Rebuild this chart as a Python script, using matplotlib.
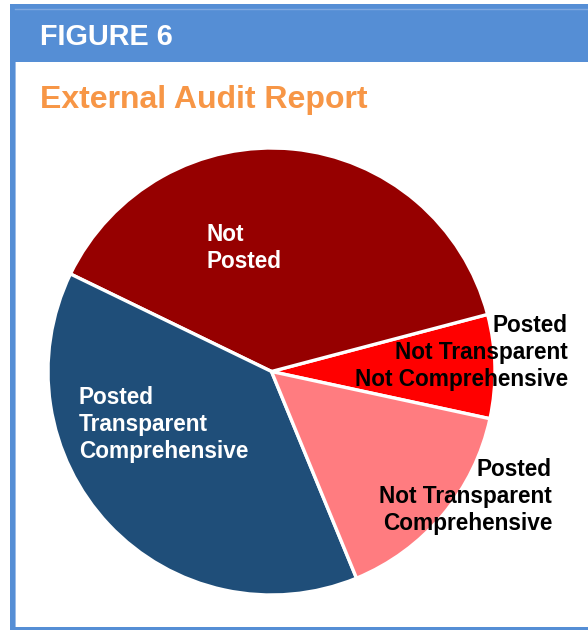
import matplotlib
matplotlib.use("Agg")
import matplotlib.pyplot as plt
from matplotlib.patches import Rectangle

plt.rcParams['font.family'] = ['Liberation Sans', 'DejaVu Sans']

# data (share of countries)
categories = ["Posted\nNot Transparent\nNot Comprehensive",
              "Not\nPosted",
              "Posted\nTransparent\nComprehensive",
              "Posted\nNot Transparent\nComprehensive"]
shares = [7.5, 38.7, 38.4, 15.4]
colors = ['#ff0000', '#960000', '#1f4e79', '#ff7c80']
text_colors = ['black', 'white', 'white', 'black']

W, H = 588, 630
fig = plt.figure(figsize=(W / 100, H / 100), dpi=100)

# background frame in pixel coordinates
bg = fig.add_axes([0, 0, 1, 1])
bg.set_xlim(0, W)
bg.set_ylim(H, 0)
bg.axis('off')
bg.add_patch(Rectangle((10, 4), W - 10, 58, color='#558ed5', lw=0))
bg.plot([15, W], [9, 9], color='#7fa8e0', lw=1)
bg.add_patch(Rectangle((10, 62), 5, H - 62, color='#558ed5', lw=0))
bg.add_patch(Rectangle((15, 62), 1.2, H - 65, color='#9dbde8', lw=0))
bg.add_patch(Rectangle((10, 627), W - 10, 3, color='#558ed5', lw=0))
bg.text(40, 45, "FIGURE 6", color='white', fontsize=20.8, fontweight='bold',
        va='baseline', ha='left')
bg.text(40, 108, "External Audit Report", color='#f79646', fontsize=23,
        fontweight='bold', va='baseline', ha='left')

# pie: centre (271.5, 371.5) px, radius 223.5 px
cx, cy, r = 271.5, 371.5, 223.5
ax = fig.add_axes([(cx - r) / W, (H - cy - r) / H, 2 * r / W, 2 * r / H])
ax.pie(shares, colors=colors, startangle=-12.2, counterclock=True,
       wedgeprops=dict(edgecolor='white', linewidth=2.4), radius=1)
ax.set_xlim(-1, 1)
ax.set_ylim(-1, 1)
ax.set_aspect('equal')


def px(x, y):
    return (x - cx) / r, (cy - y) / r


# label positions (px of last-line baseline) and alignment
label_pos = [(568, 386, 'right'), (207, 268, 'left'),
             (79, 458, 'left'), (552, 530, 'right')]
for lab, (x, y, ha), tc in zip(categories, label_pos, text_colors):
    lx, ly = px(x, y)
    ax.text(lx, ly, lab, color=tc, fontsize=16.3, fontweight='bold',
            ha=ha, va='baseline', multialignment=ha, linespacing=1.23,
            clip_on=False)

fig.savefig("out.png", dpi=100)
